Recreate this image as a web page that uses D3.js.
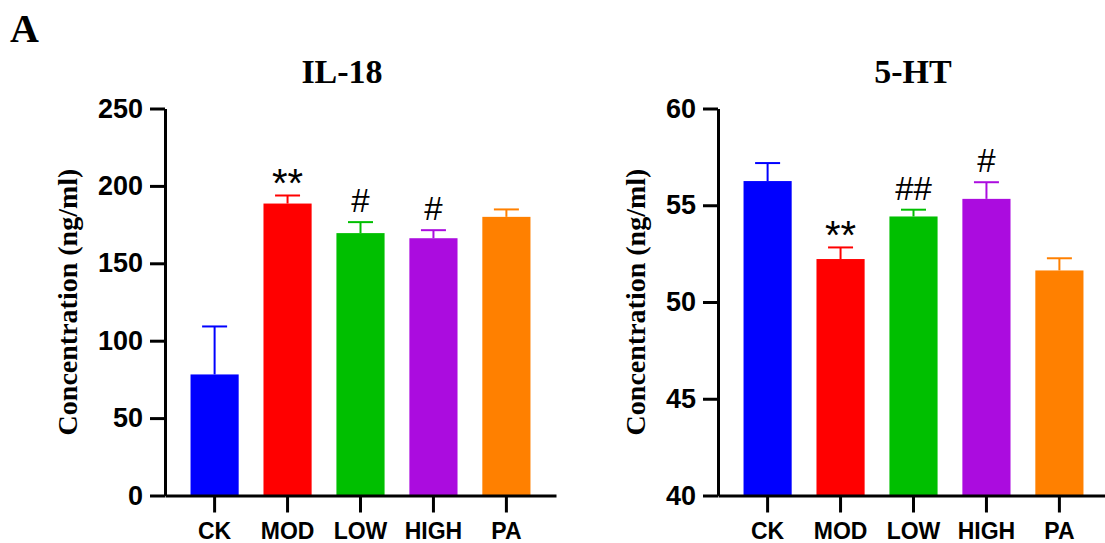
<!DOCTYPE html>
<html>
<head>
<meta charset="utf-8">
<script src="https://cdn.jsdelivr.net/npm/d3@7"></script>
<style>
  body { margin: 0; background: #fff; }
  svg { display: block; }
  .axis path, .axis line { stroke: #000; stroke-width: 3; }
  .axis text { font-family: "Liberation Sans", Arial, sans-serif; font-weight: bold; fill: #000; }
</style>
</head>
<body>
<div id="root"></div>
<script>
const groups = ["CK", "MOD", "LOW", "HIGH", "PA"];
const colors = ["#0000FF", "#FF0000", "#00BF00", "#AB0CDF", "#FF8000"];

// IL-18 panel
const il18Mean = [78.2, 188.6, 169.5, 166.2, 180.0];
const il18Err = [31.0, 5.2, 7.1, 5.2, 4.8];
const il18Marks = ["", "**", "#", "#", ""];
const il18Ticks = [0, 50, 100, 150, 200, 250];

// 5-HT panel
const htMean = [56.25, 52.22, 54.42, 55.33, 51.63];
const htErr = [0.93, 0.60, 0.35, 0.86, 0.63];
const htMarks = ["", "**", "##", "#", ""];
const htTicks = [40, 45, 50, 55, 60];

const W = 1105, H = 543;

const svg = d3.select("#root")
  .append("svg")
    .attr("width", W)
    .attr("height", H);

// panel letter
svg.append("text")
  .attr("x", 10)
  .attr("y", 42)
  .style("font-family", "'Liberation Serif', 'Times New Roman', serif")
  .style("font-weight", "bold")
  .style("font-size", "40px")
  .text("A");

function drawPanel(p) {
  const g = svg.append("g").attr("transform", `translate(${p.left},0)`);
  const top = 108.5, bottom = 495.5, axisLen = 391;

  const y = d3.scaleLinear()
    .domain(d3.extent(p.ticks))
    .range([bottom, top]);

  const x = d3.scaleBand()
    .domain(groups)
    .range([0, axisLen])
    .paddingInner(0.34)
    .paddingOuter(0.35);

  // bars
  g.append("g")
    .selectAll("rect")
    .data(p.mean)
    .enter()
    .append("rect")
      .attr("x", (d, i) => x(groups[i]))
      .attr("y", d => y(d))
      .attr("width", x.bandwidth())
      .attr("height", d => bottom - y(d))
      .style("fill", (d, i) => colors[i]);

  // error bars (upper only)
  const err = g.append("g")
    .selectAll("g")
    .data(p.mean)
    .enter()
    .append("g")
      .style("stroke", (d, i) => colors[i])
      .style("stroke-width", 2);

  err.append("line")
    .attr("x1", (d, i) => x(groups[i]) + x.bandwidth() / 2)
    .attr("x2", (d, i) => x(groups[i]) + x.bandwidth() / 2)
    .attr("y1", d => y(d))
    .attr("y2", (d, i) => y(d + p.err[i]));

  err.append("line")
    .attr("x1", (d, i) => x(groups[i]) + x.bandwidth() / 2 - 12.5)
    .attr("x2", (d, i) => x(groups[i]) + x.bandwidth() / 2 + 12.5)
    .attr("y1", (d, i) => y(d + p.err[i]))
    .attr("y2", (d, i) => y(d + p.err[i]));

  // significance marks
  g.append("g")
    .selectAll("text")
    .data(p.marks)
    .enter()
    .append("text")
      .attr("x", (d, i) => x(groups[i]) + x.bandwidth() / 2)
      .attr("y", (d, i) => y(p.mean[i] + p.err[i]) - (d.indexOf("*") >= 0 ? -2 : 10))
      .attr("text-anchor", "middle")
      .style("font-family", "'Liberation Sans', Arial, sans-serif")
      .style("font-size", d => d.indexOf("*") >= 0 ? "40px" : "33px")
      .text(d => d);

  // y axis
  g.append("g")
    .attr("class", "axis")
    .call(d3.axisLeft(y)
      .tickValues(p.ticks)
      .tickSize(15)
      .tickSizeOuter(0)
      .tickPadding(7))
    .selectAll("text")
      .style("font-size", "27px");

  // x axis
  g.append("g")
    .attr("class", "axis")
    .attr("transform", `translate(0,${bottom})`)
    .call(d3.axisBottom(x)
      .tickSize(17)
      .tickSizeOuter(0)
      .tickPadding(10))
    .selectAll("text")
      .style("font-size", "23px");

  // y label
  g.append("text")
    .attr("transform", `translate(${p.labelX},302) rotate(-90)`)
    .attr("text-anchor", "middle")
    .style("font-family", "'Liberation Serif', 'Times New Roman', serif")
    .style("font-weight", "bold")
    .style("font-size", "28px")
    .text("Concentration (ng/ml)");

  // title
  g.append("text")
    .attr("x", p.titleX)
    .attr("y", 83)
    .attr("text-anchor", "middle")
    .style("font-family", "'Liberation Serif', 'Times New Roman', serif")
    .style("font-weight", "bold")
    .style("font-size", "34px")
    .text(p.title);
}

drawPanel({ left: 165, title: "IL-18", titleX: 177, labelX: -88,
  mean: il18Mean, err: il18Err, marks: il18Marks, ticks: il18Ticks });

drawPanel({ left: 718, title: "5-HT", titleX: 195, labelX: -73,
  mean: htMean, err: htErr, marks: htMarks, ticks: htTicks });
</script>
</body>
</html>
